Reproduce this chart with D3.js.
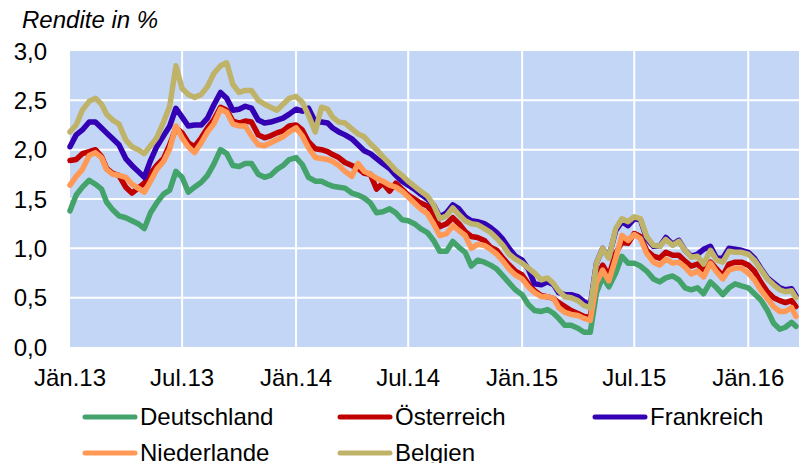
<!DOCTYPE html>
<html>
<head>
<meta charset="utf-8">
<script src="https://d3js.org/d3.v7.min.js"></script>
<style>
  body { margin: 0; background: #fff; }
  text { font-family: "Liberation Sans", Arial, sans-serif; fill: #000; }
</style>
</head>
<body>
<div id="chart"></div>
<script>
// dates of the readings (1st, 11th, 21st of each month)
var dates = [
  "2013-01-01","2013-01-11","2013-01-21","2013-02-01","2013-02-11","2013-02-21",
  "2013-03-01","2013-03-11","2013-03-21","2013-04-01","2013-04-11","2013-04-21",
  "2013-05-01","2013-05-11","2013-05-21","2013-06-01","2013-06-11","2013-06-21",
  "2013-07-01","2013-07-11","2013-07-21","2013-08-01","2013-08-11","2013-08-21",
  "2013-09-01","2013-09-11","2013-09-21","2013-10-01","2013-10-11","2013-10-21",
  "2013-11-01","2013-11-11","2013-11-21","2013-12-01","2013-12-11","2013-12-21",
  "2014-01-01","2014-01-11","2014-01-21","2014-02-01","2014-02-11","2014-02-21",
  "2014-03-01","2014-03-11","2014-03-21","2014-04-01","2014-04-11","2014-04-21",
  "2014-05-01","2014-05-11","2014-05-21","2014-06-01","2014-06-11","2014-06-21",
  "2014-07-01","2014-07-11","2014-07-21","2014-08-01","2014-08-11","2014-08-21",
  "2014-09-01","2014-09-11","2014-09-21","2014-10-01","2014-10-11","2014-10-21",
  "2014-11-01","2014-11-11","2014-11-21","2014-12-01","2014-12-11","2014-12-21",
  "2015-01-01","2015-01-11","2015-01-21","2015-02-01","2015-02-11","2015-02-21",
  "2015-03-01","2015-03-11","2015-03-21","2015-04-01","2015-04-11","2015-04-21",
  "2015-05-01","2015-05-11","2015-05-21","2015-06-01","2015-06-11","2015-06-21",
  "2015-07-01","2015-07-11","2015-07-21","2015-08-01","2015-08-11","2015-08-21",
  "2015-09-01","2015-09-11","2015-09-21","2015-10-01","2015-10-11","2015-10-21",
  "2015-11-01","2015-11-11","2015-11-21","2015-12-01","2015-12-11","2015-12-21",
  "2016-01-01","2016-01-11","2016-01-21","2016-02-01","2016-02-11","2016-02-21",
  "2016-03-01","2016-03-11","2016-03-18"
];

var deutschland = [
  1.38,1.54,1.62, 1.69,1.65,1.60, 1.47,1.39,1.33, 1.31,1.28,1.25,
  1.20,1.36,1.46, 1.55,1.59,1.78, 1.72,1.57,1.62, 1.67,1.74,1.85,
  2.00,1.96,1.84, 1.83,1.86,1.86, 1.75,1.72,1.74, 1.80,1.84,1.90,
  1.92,1.85,1.72, 1.68,1.68,1.65, 1.63,1.62,1.61, 1.56,1.54,1.51,
  1.46,1.36,1.37, 1.40,1.36,1.29, 1.28,1.25,1.20, 1.16,1.08,0.97,
  0.97,1.07,1.01, 0.96,0.82,0.88, 0.86,0.83,0.79, 0.72,0.65,0.58,
  0.53,0.43,0.37, 0.36,0.38,0.34, 0.29,0.22,0.22, 0.19,0.15,0.15,
  0.55,0.71,0.61, 0.75,0.92,0.85, 0.85,0.82,0.77, 0.69,0.66,0.70,
  0.72,0.68,0.60, 0.58,0.60,0.54, 0.66,0.60,0.53, 0.60,0.64,0.62,
  0.60,0.54,0.48, 0.37,0.24,0.18, 0.20,0.25,0.21
];
var oesterreich = [
  1.89,1.90,1.96, 1.98,2.00,1.93, 1.81,1.76,1.74, 1.62,1.56,1.61,
  1.66,1.76,1.84, 1.91,2.05,2.22, 2.17,2.07,2.03, 2.12,2.22,2.30,
  2.43,2.40,2.29, 2.27,2.29,2.28, 2.15,2.12,2.14, 2.17,2.19,2.24,
  2.25,2.20,2.08, 2.01,2.00,1.98, 1.95,1.92,1.87, 1.84,1.81,1.76,
  1.75,1.60,1.66, 1.58,1.66,1.60, 1.54,1.50,1.46, 1.43,1.35,1.22,
  1.25,1.31,1.25, 1.17,1.12,1.11, 1.08,1.01,0.98, 0.90,0.83,0.77,
  0.73,0.64,0.57, 0.52,0.51,0.49, 0.45,0.41,0.37, 0.34,0.31,0.30,
  0.70,0.83,0.72, 0.95,1.06,1.05, 1.15,1.12,0.98, 0.92,0.90,0.96,
  0.93,0.93,0.87, 0.82,0.84,0.78, 0.86,0.79,0.72, 0.84,0.86,0.86,
  0.83,0.77,0.66, 0.56,0.50,0.47, 0.45,0.47,0.41
];
var frankreich = [
  2.03,2.15,2.20, 2.28,2.28,2.22, 2.17,2.11,2.05, 1.91,1.84,1.78,
  1.72,1.89,2.03, 2.14,2.24,2.42, 2.33,2.24,2.25, 2.25,2.32,2.45,
  2.58,2.52,2.40, 2.41,2.44,2.42, 2.30,2.27,2.28, 2.30,2.32,2.36,
  2.41,2.39,2.42, 2.28,2.28,2.27, 2.22,2.18,2.15, 2.11,2.05,1.99,
  1.96,1.91,1.86, 1.81,1.74,1.68, 1.64,1.60,1.55, 1.50,1.44,1.32,
  1.36,1.44,1.40, 1.32,1.28,1.27, 1.25,1.21,1.16, 1.09,1.00,0.92,
  0.88,0.79,0.64, 0.63,0.66,0.63, 0.55,0.53,0.53, 0.51,0.46,0.42,
  0.85,1.00,0.91, 1.18,1.27,1.23, 1.30,1.29,1.10, 1.02,1.02,1.11,
  1.04,1.08,0.98, 0.92,0.94,0.99, 1.02,0.90,0.90, 1.00,0.99,0.98,
  0.96,0.90,0.80, 0.70,0.65,0.60, 0.58,0.59,0.52
];
var niederlande = [
  1.64,1.73,1.80, 1.94,1.97,1.92, 1.80,1.75,1.74, 1.72,1.65,1.61,
  1.57,1.68,1.80, 1.88,2.01,2.24, 2.12,2.03,1.97, 2.07,2.18,2.26,
  2.41,2.38,2.26, 2.24,2.24,2.14, 2.05,2.04,2.07, 2.10,2.13,2.18,
  2.22,2.14,2.02, 1.92,1.91,1.90, 1.88,1.84,1.78, 1.73,1.86,1.78,
  1.75,1.71,1.68, 1.64,1.62,1.58, 1.52,1.46,1.40, 1.35,1.25,1.13,
  1.15,1.23,1.18, 1.13,1.00,1.04, 1.03,0.99,0.94, 0.87,0.79,0.73,
  0.69,0.61,0.55, 0.51,0.51,0.49, 0.40,0.35,0.33, 0.32,0.29,0.27,
  0.65,0.78,0.67, 0.90,1.13,1.08, 1.14,1.10,0.95, 0.86,0.83,0.89,
  0.85,0.86,0.81, 0.74,0.77,0.71, 0.85,0.76,0.69, 0.78,0.80,0.80,
  0.75,0.68,0.58, 0.49,0.41,0.36, 0.36,0.40,0.31
];
var belgien = [
  2.18,2.25,2.40, 2.49,2.52,2.46, 2.36,2.30,2.26, 2.10,2.03,2.00,
  1.96,2.04,2.12, 2.28,2.44,2.85, 2.62,2.56,2.53, 2.56,2.64,2.77,
  2.85,2.88,2.66, 2.58,2.60,2.60, 2.50,2.46,2.43, 2.40,2.46,2.52,
  2.54,2.48,2.35, 2.18,2.43,2.41, 2.33,2.28,2.27, 2.21,2.16,2.13,
  2.06,2.00,1.93, 1.86,1.79,1.74, 1.68,1.63,1.58, 1.53,1.44,1.30,
  1.33,1.41,1.34, 1.28,1.25,1.24, 1.20,1.16,1.10, 1.03,0.94,0.89,
  0.85,0.80,0.75, 0.68,0.70,0.64, 0.57,0.51,0.50, 0.47,0.42,0.40,
  0.85,1.00,0.90, 1.20,1.30,1.27, 1.32,1.30,1.12, 1.03,1.02,1.09,
  1.03,1.07,0.98, 0.91,0.92,0.84, 0.98,0.88,0.86, 0.97,0.96,0.96,
  0.94,0.88,0.79, 0.69,0.63,0.58, 0.56,0.57,0.50
];

var seriesNames = ['Deutschland', 'Österreich', 'Frankreich', 'Niederlande', 'Belgien'];
var seriesValues = [deutschland, oesterreich, frankreich, niederlande, belgien];
var seriesColors = ['#43A36B', '#C00000', '#3300B4', '#FF9955', '#BFB36A'];

var tickDates = ["2013-01-01","2013-07-01","2014-01-01","2014-07-01","2015-01-01","2015-07-01","2016-01-01"];
var tickLabels = ["Jän.13","Jul.13","Jän.14","Jul.14","Jän.15","Jul.15","Jän.16"];
var yTicks = [0, 0.5, 1, 1.5, 2, 2.5, 3];

(function(d3) {
  'use strict';

  var width = 799, height = 463;
  var plotLeft = 70, plotRight = 799, plotTop = 51, plotBottom = 347;
  var fontSize = '24px';
  var parse = d3.timeParse('%Y-%m-%d');

  var svg = d3.select('#chart').append('svg')
    .attr('width', width)
    .attr('height', height);

  var x = d3.scaleTime()
    .domain([parse('2013-01-01'), parse('2016-03-23')])
    .range([plotLeft, plotRight]);
  var y = d3.scaleLinear()
    .domain([0, 3])
    .range([plotBottom, plotTop]);

  // plot background
  svg.append('rect')
    .attr('x', plotLeft).attr('y', plotTop)
    .attr('width', plotRight - plotLeft).attr('height', plotBottom - plotTop)
    .attr('fill', '#C3D6F6');

  // grid lines
  svg.selectAll('.hgrid')
    .data(yTicks.filter(function(d) { return d > 0 && d < 3; }))
    .enter().append('line')
    .attr('x1', plotLeft).attr('x2', plotRight)
    .attr('y1', function(d) { return y(d); })
    .attr('y2', function(d) { return y(d); })
    .attr('stroke', '#fff').attr('stroke-width', 2);

  svg.selectAll('.vgrid')
    .data(tickDates.slice(1))
    .enter().append('line')
    .attr('x1', function(d) { return x(parse(d)); })
    .attr('x2', function(d) { return x(parse(d)); })
    .attr('y1', plotTop).attr('y2', plotBottom)
    .attr('stroke', '#fff').attr('stroke-width', 2);

  // y labels
  svg.selectAll('.ylab')
    .data(yTicks)
    .enter().append('text')
    .attr('x', 47)
    .attr('y', function(d) { return y(d); })
    .attr('dy', '0.36em')
    .attr('text-anchor', 'end')
    .style('font-size', fontSize)
    .text(function(d) { return d3.format('.1f')(d).replace('.', ','); });

  // x labels
  svg.selectAll('.xlab')
    .data(tickDates)
    .enter().append('text')
    .attr('x', function(d) { return x(parse(d)); })
    .attr('y', 386)
    .attr('text-anchor', 'middle')
    .style('font-size', fontSize)
    .text(function(d, i) { return tickLabels[i]; });

  // title
  svg.append('text')
    .attr('x', 22).attr('y', 28)
    .style('font-size', fontSize)
    .style('font-style', 'italic')
    .text('Rendite in %');

  // lines
  var line = d3.line()
    .x(function(d, i) { return x(parse(dates[i])); })
    .y(function(d) { return y(d); });

  svg.selectAll('.series')
    .data(seriesValues)
    .enter().append('path')
    .attr('d', line)
    .attr('fill', 'none')
    .attr('stroke', function(d, i) { return seriesColors[i]; })
    .attr('stroke-width', 5.5)
    .attr('stroke-linejoin', 'round')
    .attr('stroke-linecap', 'round');

  // legend
  var legend = svg.selectAll('.legend')
    .data(seriesNames)
    .enter().append('g')
    .attr('transform', function(d, i) {
      var col = i % 3, row = Math.floor(i / 3);
      return 'translate(' + (85 + col * 255) + ',' + (417 + row * 36) + ')';
    });

  legend.append('line')
    .attr('x1', 0).attr('x2', 50)
    .attr('stroke', function(d, i) { return seriesColors[i]; })
    .attr('stroke-width', 5)
    .attr('stroke-linecap', 'round');

  legend.append('text')
    .attr('x', 55)
    .attr('y', 8)
    .style('font-size', fontSize)
    .text(function(d) { return d; });
})(window.d3);
</script>
</body>
</html>
